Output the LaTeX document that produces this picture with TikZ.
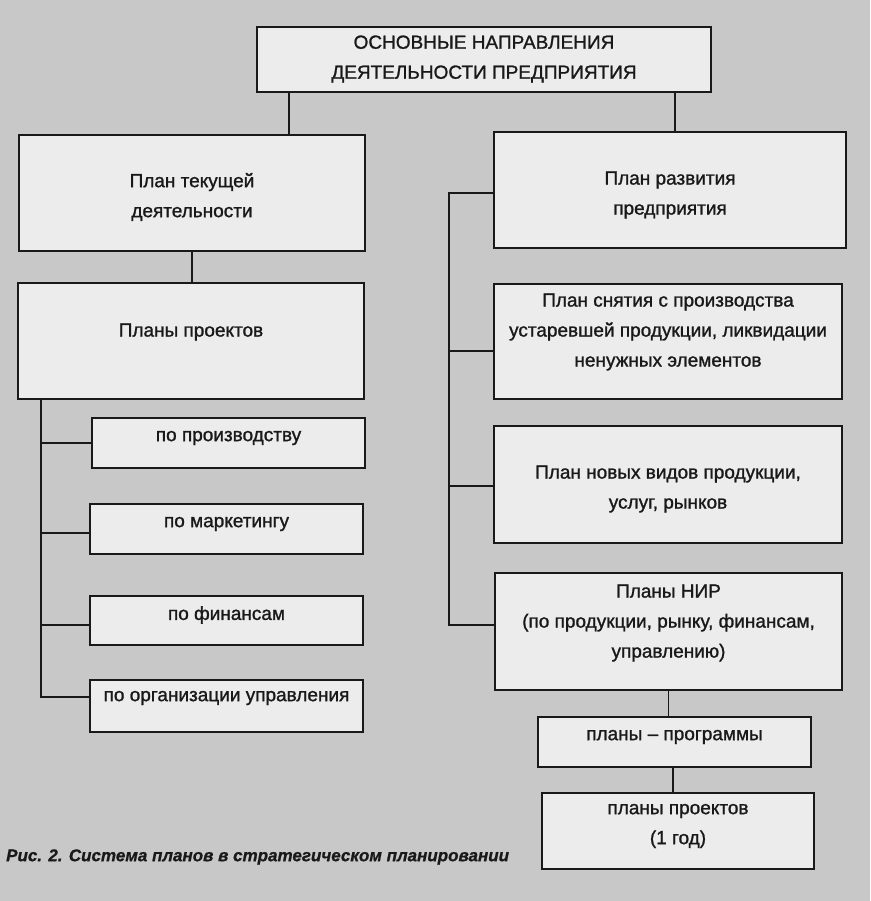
\documentclass[tikz,border=0pt]{standalone}
\usepackage{fontspec}
\setmainfont{Liberation Sans}[FakeBold=1.2]
\newfontfamily\capfont{Liberation Sans}[FakeBold=0.8]
\usetikzlibrary{calc}
\definecolor{bg}{RGB}{200,200,200}
\definecolor{boxfill}{RGB}{236,236,236}
\definecolor{ink}{RGB}{25,25,25}
\begin{document}
\begin{tikzpicture}[x=1pt,y=-1pt,
  box/.style={draw=ink, fill=boxfill, line width=1.9pt, inner sep=0pt},
  txt/.style={text=ink, align=center, inner sep=0pt, font=\fontsize{19}{30}\selectfont},
  wire/.style={draw=ink, line width=1.9pt},
  captxt/.style={text=ink, anchor=west, inner sep=0pt, font=\capfont\fontsize{17}{20}\selectfont\bfseries\itshape}]
\fill[bg] (0,0) rectangle (870,901);
\useasboundingbox (0,0) rectangle (870,901);

% boxes
\node[box, minimum width=454pt, minimum height=65pt] (top) at (484,59.5) {};
\node[box, minimum width=346pt, minimum height=116pt] (cur) at (192,193) {};
\node[box, minimum width=352pt, minimum height=116pt] (dev) at (670,190) {};
\node[box, minimum width=346pt, minimum height=116pt] (proj) at (191,341) {};
\node[box, minimum width=273pt, minimum height=50pt] (s1) at (228.5,443) {};
\node[box, minimum width=273pt, minimum height=50pt] (s2) at (226.5,529) {};
\node[box, minimum width=273pt, minimum height=49pt] (s3) at (226.5,620.5) {};
\node[box, minimum width=273pt, minimum height=52pt] (s4) at (226.5,706) {};
\node[box, minimum width=348pt, minimum height=115pt] (r1) at (668,341.5) {};
\node[box, minimum width=348pt, minimum height=117pt] (r2) at (668,484.5) {};
\node[box, minimum width=347pt, minimum height=117pt] (r3) at (668.5,631.5) {};
\node[box, minimum width=273pt, minimum height=50pt] (p1) at (674.5,742) {};
\node[box, minimum width=272pt, minimum height=76pt] (p2) at (678,831) {};

% texts
\node[txt] (topt) at (484,59) {ОСНОВНЫЕ НАПРАВЛЕНИЯ\\ДЕЯТЕЛЬНОСТИ ПРЕДПРИЯТИЯ};
\node[txt] (curt) at (192,197) {План текущей\\деятельности};
\node[txt] (devt) at (670,195) {План развития\\предприятия};
\node[txt] (projt) at (191,332) {Планы проектов};
\node[txt] (s1t) at (228.5,438) {по производству};
\node[txt] (s2t) at (226.5,524) {по маркетингу};
\node[txt] (s3t) at (226.5,615) {по финансам};
\node[txt] (s4t) at (226.5,698) {по организации управления};
\node[txt] (r1t) at (668,332) {План снятия с производства\\устаревшей продукции, ликвидации\\ненужных элементов};
\node[txt] (r2t) at (668,489) {План новых видов продукции,\\услуг, рынков};
\node[txt] (r3t) at (668.5,623) {Планы НИР\\(по продукции, рынку, финансам,\\управлению)};
\node[txt] (p1t) at (674.5,737) {планы – программы};
\node[txt] (p2t) at (678,826) {планы проектов\\(1 год)};

\node[captxt] (caption) at (6,857) {Рис. 2. Система планов в стратегическом планировании};

% connectors
\coordinate (ct1) at (289,0);
\coordinate (ct2) at (675,0);
\draw[wire] (ct1 |- top.south) -- (ct1 |- cur.north);
\draw[wire] (ct2 |- top.south) -- (ct2 |- dev.north);
\draw[wire] (cur.south) -- (cur.south |- proj.north);

\coordinate (lb) at (41,0);
\draw[wire] (lb |- proj.south) |- ([yshift=9pt]s4.west);
\draw[wire] (lb |- s1.west) -- (s1.west);
\draw[wire] ([yshift=-4pt]lb |- s2.west) -- ([yshift=-4pt]s2.west);
\draw[wire] ([yshift=-4.5pt]lb |- s3.west) -- ([yshift=-4.5pt]s3.west);

\coordinate (rb) at (449,0);
\draw[wire] ([yshift=-3pt]dev.west) -| ([yshift=6.5pt]rb |- r3.west) -- ([yshift=6.5pt]r3.west);
\draw[wire] ([yshift=-9.5pt]rb |- r1.west) -- ([yshift=-9.5pt]r1.west);
\draw[wire] ([yshift=-1.5pt]rb |- r2.west) -- ([yshift=-1.5pt]r2.west);

\draw[wire] (r3.south) -- (r3.south |- p1.north);
\draw[wire] ([xshift=-1.5pt]p1.south) -- ([xshift=-1.5pt]p1.south |- p2.north);
\end{tikzpicture}
\end{document}
